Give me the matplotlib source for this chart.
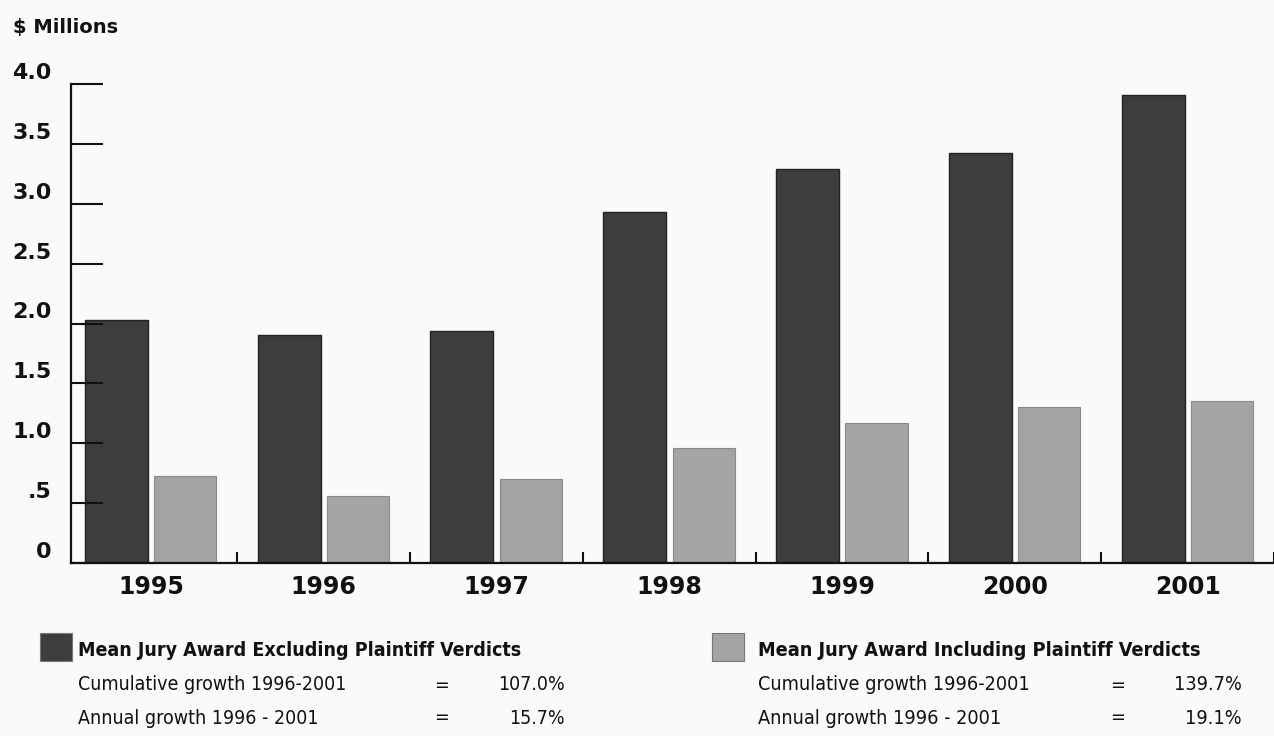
import numpy as np
import matplotlib
matplotlib.use('Agg')
import matplotlib.pyplot as plt
from matplotlib.patches import Rectangle
from matplotlib import font_manager

# values ($ millions)
years = ['1995', '1996', '1997', '1998', '1999', '2000', '2001']
excl_plaintiff = [2.03, 1.90, 1.94, 2.93, 3.29, 3.42, 3.91]
incl_plaintiff = [0.73, 0.56, 0.70, 0.96, 1.17, 1.30, 1.35]

y_ticks = [0, 0.5, 1.0, 1.5, 2.0, 2.5, 3.0, 3.5, 4.0]
y_labels = ['0', '.5', '1.0', '1.5', '2.0', '2.5', '3.0', '3.5', '4.0']

legend_titles = ['Mean Jury Award Excluding Plaintiff Verdicts',
                 'Mean Jury Award Including Plaintiff Verdicts']
growth_labels = ['Cumulative growth 1996-2001', 'Annual growth 1996 - 2001']
excl_growth = ['107.0%', '15.7%']
incl_growth = ['139.7%', '19.1%']

dark = '#3d3d3d'
light = '#a4a4a4'


# look for a narrow face for the legend text (the original uses a condensed font)
def find_narrow(bold):
    best = None
    for f in font_manager.fontManager.ttflist:
        tag = (f.name + ' ' + f.fname).lower()
        if not ('condensed' in tag or 'narrow' in tag or f.stretch in ('condensed', 'semi-condensed')):
            continue
        if 'extra' in tag or 'ultra' in tag or 'italic' in tag or 'oblique' in tag:
            continue
        w = f.weight if isinstance(f.weight, int) else (700 if 'bold' in str(f.weight) else 400)
        if bold != (w >= 600):
            continue
        if bold and w > 750:
            continue
        if not bold and w < 350:
            continue
        score = 0 if 'semi' not in tag else 1
        if best is None or score < best[0]:
            best = (score, f.fname)
    if best:
        return font_manager.FontProperties(fname=best[1])
    return font_manager.FontProperties(family='DejaVu Sans', weight='bold' if bold else 'normal')


fp_bold = find_narrow(True)
fp_reg = find_narrow(False)

W, H = 1274, 736
fig = plt.figure(figsize=(W / 100, H / 100), dpi=100, facecolor='#fafafa')


def fx(x):
    return x / W


def fy(y):
    return 1 - y / H


# axes box in pixels: left 71, baseline 563, top (4.0) 84
ax = fig.add_axes([fx(71), fy(563), fx(1274) - fx(71), fy(84) - fy(563)])
ax.set_facecolor('none')

x = np.arange(len(years))
ax.bar(x - 0.2, excl_plaintiff, width=0.365, color=dark, edgecolor='#222222', linewidth=1)
ax.bar(x + 0.2, incl_plaintiff, width=0.36, color=light, edgecolor='#8a8a8a', linewidth=0.8)

ax.set_xlim(-0.462, 6.48)
ax.set_ylim(0, 4.0)

for s in ['top', 'right']:
    ax.spines[s].set_visible(False)
for s in ['left', 'bottom']:
    ax.spines[s].set_linewidth(1.6)
    ax.spines[s].set_color('#111111')

ax.set_xticks(x)
ax.set_xticklabels(years, fontsize=17, fontweight='bold', color='#111111')
ax.tick_params(axis='x', which='major', length=0, pad=9)
ax.set_xticks(np.arange(0.5, 7, 1), minor=True)
ax.tick_params(axis='x', which='minor', direction='in', length=8, width=1.5, color='#111111')

ax.set_yticks(y_ticks)
ax.set_yticklabels([])
ax.tick_params(axis='y', direction='in', length=23, width=1.5, color='#111111')

# y labels sit a little above their tick marks
for v, lbl in zip(y_ticks, y_labels):
    ax.annotate(lbl, xy=(0, v), xycoords=('axes fraction', 'data'),
                xytext=(-14, 8), textcoords='offset points',
                ha='right', va='center', fontsize=16, fontweight='bold', color='#111111')

fig.text(fx(13), fy(27), '$ Millions', ha='left', va='center',
         fontsize=14, fontweight='bold', color='#111111')

# legend blocks
renderer = fig.canvas.get_renderer()
blocks = [(40, 78, 441, 565, dark, excl_growth),
          (712, 758, 1118, 1242, light, incl_growth)]
for (sq_x, tx, eq_x, val_x, col, vals), title in zip(blocks, legend_titles):
    fig.add_artist(Rectangle((fx(sq_x), fy(661)), fx(32), 28 / H, transform=fig.transFigure,
                             facecolor=col, edgecolor='#777777', linewidth=0.8))
    t = fig.text(fx(tx), fy(650), title, ha='left', va='center', fontproperties=fp_bold,
                 fontsize=16, color='#111111')
    # fit the title to the width it has in the original (about 444 px)
    wpx = t.get_window_extent(renderer).width
    size = 16 * 444 / wpx
    t.set_fontsize(size)
    for row_y, lbl, val in zip([685, 718], growth_labels, vals):
        fig.text(fx(tx), fy(row_y), lbl, ha='left', va='center', fontproperties=fp_reg,
                 fontsize=size, color='#111111')
        fig.text(fx(eq_x), fy(row_y), '=', ha='center', va='center', fontproperties=fp_reg,
                 fontsize=size, color='#111111')
        fig.text(fx(val_x), fy(row_y), val, ha='right', va='center', fontproperties=fp_reg,
                 fontsize=size, color='#111111')

fig.savefig('out.png', dpi=100, facecolor=fig.get_facecolor())
